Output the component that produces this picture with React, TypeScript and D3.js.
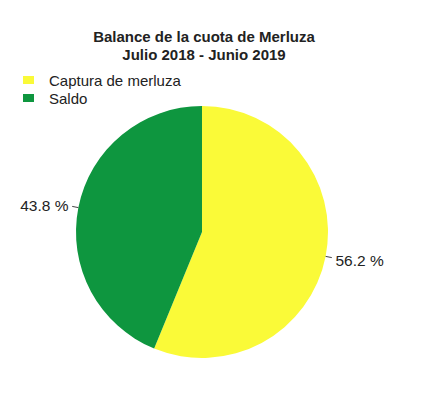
import React from "react";
import * as d3 from "d3";

const categories = ["Captura de merluza", "Saldo"];
const values = [56.2, 43.8];
const colors = ["#fafa38", "#0e963f"];
const titleLines = ["Balance de la cuota de Merluza", "Julio 2018 - Junio 2019"];

export default function App() {
  const width = 422;
  const height = 405;
  const cx = 202;
  const cy = 232;
  const r = 126;

  const pie = d3.pie<number>().sort(null).startAngle(0).endAngle(2 * Math.PI);
  const arcs = pie(values);
  const arc = d3.arc<d3.PieArcDatum<number>>().innerRadius(0).outerRadius(r);

  return (
    <svg
      width={width}
      height={height}
      style={{ position: "absolute", left: 0, top: 0, background: "#fff" }}
      fontFamily="Liberation Sans, Arial, sans-serif"
    >
      {titleLines.map((t, i) => (
        <text
          key={i}
          x={204}
          y={42 + i * 18}
          textAnchor="middle"
          fontWeight="bold"
          fontSize={15}
          fill="#222"
        >
          {t}
        </text>
      ))}
      {categories.map((c, i) => (
        <g key={c}>
          <rect x={23} y={76 + i * 18} width={11} height={8} fill={colors[i]} />
          <text x={49} y={86 + i * 17.5} fontSize={15} fill="#222">
            {c}
          </text>
        </g>
      ))}
      <g transform={`translate(${cx},${cy})`}>
        {arcs.map((a, i) => (
          <path key={i} d={arc(a) || ""} fill={colors[i]} />
        ))}
        {arcs.map((a, i) => {
          const mid = (a.startAngle + a.endAngle) / 2;
          const sx = Math.sin(mid);
          const sy = -Math.cos(mid);
          const x1 = sx * r;
          const y1 = sy * r;
          const x2 = sx * r * 1.05;
          const y2 = sy * r * 1.05;
          const lx = sx * r * 1.08;
          const ly = sy * r * 1.08;
          return (
            <g key={"l" + i}>
              <line x1={x1} y1={y1} x2={x2} y2={y2} stroke="#444" strokeWidth={1} />
              <text
                x={lx}
                y={ly + (sy > 0 ? 2 : 0)}
                dy="0.35em"
                fontSize={15.5}
                fill="#222"
                textAnchor={sx > 0 ? "start" : "end"}
              >
                {values[i].toFixed(1)} %
              </text>
            </g>
          );
        })}
      </g>
    </svg>
  );
}
